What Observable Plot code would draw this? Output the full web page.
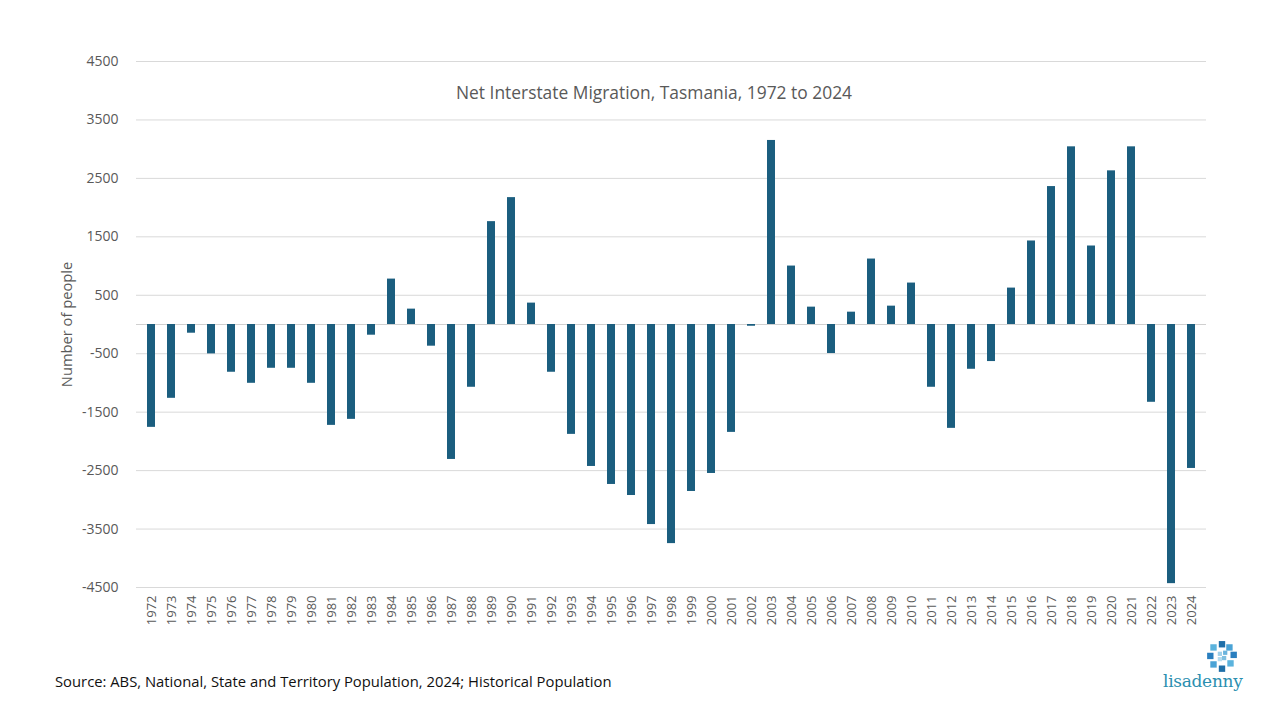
<!DOCTYPE html>
<html>
<head>
<meta charset="utf-8">
<script src="https://cdn.jsdelivr.net/npm/d3@7"></script>
<script src="https://cdn.jsdelivr.net/npm/@observablehq/plot@0.6"></script>
<style>
  html, body { margin: 0; padding: 0; background: #fff; }
  #wrap { position: relative; width: 1280px; height: 720px; overflow: hidden; font-family: "Open Sans", "Liberation Sans", Arial, sans-serif; }
  #chart { position: absolute; left: 0; top: 0; }
  #title { position: absolute; left: 0; width: 1308px; top: 80px; text-align: center; font-size: 17.4px; color: #595959; }
  #source { position: absolute; left: 55px; top: 671px; font-size: 14.8px; color: #111; }
  #logo { position: absolute; left: 1160px; top: 638px; width: 90px; height: 58px; }
  #logo .word { position: absolute; left: 3px; top: 33px; font-family: "DejaVu Serif", "Liberation Serif", serif; font-size: 17px; color: #2b8fb0; letter-spacing: -0.3px; }
  #logo svg { position: absolute; left: 45px; top: 2px; }
</style>
</head>
<body>
<div id="wrap">
  <div id="chart"></div>
  <div id="title">Net Interstate Migration, Tasmania, 1972 to 2024</div>
  <div id="source">Source: ABS, National, State and Territory Population, 2024; Historical Population</div>
  <div id="logo">
    <svg width="34" height="34" viewBox="0 0 32 32">
      <g>
        <rect x="13" y="1" width="6" height="6" fill="#1f6fa8"/>
        <rect x="20" y="4" width="6" height="6" fill="#4aa3d6"/>
        <rect x="24" y="11" width="6" height="6" fill="#2a7fbf"/>
        <rect x="21" y="19" width="6" height="6" fill="#5bb3dd"/>
        <rect x="13" y="24" width="6" height="6" fill="#1f6fa8"/>
        <rect x="5" y="20" width="6" height="6" fill="#4aa3d6"/>
        <rect x="2" y="12" width="6" height="6" fill="#2a7fbf"/>
        <rect x="5" y="4" width="6" height="6" fill="#5bb3dd"/>
        <rect x="12" y="11" width="4" height="4" fill="#9fd0ea"/>
        <rect x="16" y="15" width="4" height="4" fill="#7fbfe0"/>
        <rect x="12" y="16" width="4" height="4" fill="#b5dcef"/>
        <rect x="17" y="10" width="4" height="4" fill="#6ab4dd"/>
      </g>
    </svg>
    <div class="word">lisadenny</div>
  </div>
</div>
<script>
const years = ["1972","1973","1974","1975","1976","1977","1978","1979","1980","1981","1982","1983","1984","1985","1986","1987","1988","1989","1990","1991","1992","1993","1994","1995","1996","1997","1998","1999","2000","2001","2002","2003","2004","2005","2006","2007","2008","2009","2010","2011","2012","2013","2014","2015","2016","2017","2018","2019","2020","2021","2022","2023","2024"];
const values = [-1760,-1263,-149,-503,-817,-1006,-749,-749,-1006,-1726,-1623,-183,777,263,-371,-2309,-1074,1760,2171,366,-817,-1880,-2429,-2737,-2926,-3423,-3749,-2857,-2549,-1846,-30,3149,1000,297,-497,211,1120,314,709,-1074,-1777,-766,-634,623,1429,2360,3040,1343,2629,3040,-1331,-4434,-2463];
const yTicks = [-4500,-3500,-2500,-1500,-500,500,1500,2500,3500,4500];

const data = years.map((y, i) => ({year: y, value: values[i]}));

const chart = Plot.plot({
  width: 1280,
  height: 650,
  marginTop: 61,
  marginBottom: 63,
  marginLeft: 136,
  marginRight: 74,
  style: {fontFamily: "'Open Sans', 'Liberation Sans', Arial, sans-serif", background: "#fff"},
  x: {domain: years, paddingInner: 0.6, paddingOuter: 0.3},
  y: {domain: [-4500, 4500]},
  marks: [
    Plot.gridY(yTicks, {stroke: "#d9d9d9", strokeOpacity: 1}),
    Plot.ruleY([0], {stroke: "#d0d0d0"}),
    Plot.barY(data, {x: "year", y: "value", fill: "#1b5e7f"}),
    Plot.axisX({tickSize: 0, tickPadding: 8, tickRotate: -90, fontSize: 13, fill: "#595959", label: null}),
    Plot.axisY(yTicks, {tickSize: 0, tickPadding: 18, fontSize: 14, fill: "#595959", tickFormat: d => String(d), label: null}),
    Plot.axisY({tickSize: 0, ticks: [], fontSize: 14.7, fill: "#595959", label: "Number of people", labelAnchor: "center", labelArrow: "none", labelOffset: 75})
  ]
});
document.getElementById("chart").appendChild(chart);
</script>
</body>
</html>
